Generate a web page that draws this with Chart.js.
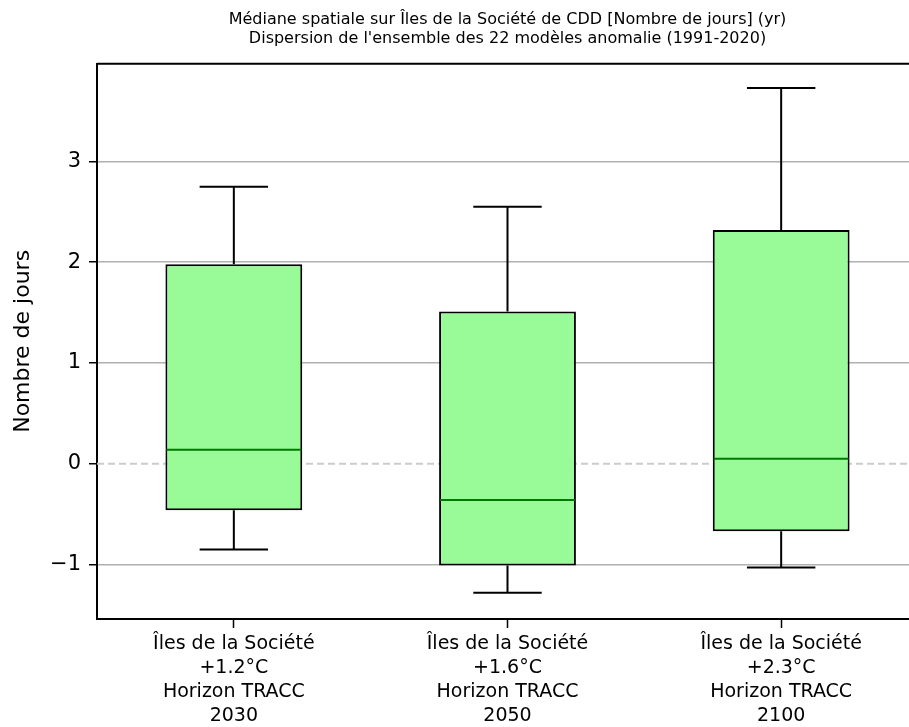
<!DOCTYPE html>
<html>
<head>
<meta charset="utf-8">
<script src="https://cdn.jsdelivr.net/npm/chart.js@4"></script>
<style>
  html, body { margin: 0; padding: 0; background: #fff; overflow: hidden; }
</style>
</head>
<body>
<canvas id="chart-boxplot" width="918" height="727"></canvas>
<script>
/* ── Données ────────────────────────────────────────────── */
const categories = [
  ['Îles de la Société', '+1.2°C', 'Horizon TRACC', '2030'],
  ['Îles de la Société', '+1.6°C', 'Horizon TRACC', '2050'],
  ['Îles de la Société', '+2.3°C', 'Horizon TRACC', '2100'],
];
const whiskerLow  = [-0.85, -1.28, -1.03];
const q1          = [-0.46, -1.01, -0.67];
const median      = [ 0.14, -0.36,  0.05];
const q3          = [ 1.98,  1.51,  2.32];
const whiskerHigh = [ 2.75,  2.55,  3.73];
const yTicks      = [-1, 0, 1, 2, 3];
const titleLines  = [
  'Médiane spatiale sur Îles de la Société de CDD [Nombre de jours] (yr)',
  "Dispersion de l'ensemble des 22 modèles anomalie (1991-2020)",
];

const FONT = "'DejaVu Sans', sans-serif";

/* ── Moustaches, médianes, ligne zéro, cadre ────────────── */
const boxExtras = {
  id: 'boxExtras',
  beforeDatasetsDraw(chart) {
    const { ctx, chartArea: a, scales: { y } } = chart;
    const y0 = y.getPixelForValue(0);
    ctx.save();
    ctx.strokeStyle = '#cccccc';
    ctx.lineWidth = 2;
    ctx.setLineDash([7, 4]);
    ctx.beginPath();
    ctx.moveTo(a.left, y0);
    ctx.lineTo(a.right, y0);
    ctx.stroke();
    ctx.restore();
  },
  afterDatasetsDraw(chart) {
    const { ctx, chartArea: a, scales: { x, y } } = chart;
    const half = (x.getPixelForValue(1) - x.getPixelForValue(0)) * 0.125;
    ctx.save();
    ctx.lineWidth = 2;
    categories.forEach((_, i) => {
      const cx = x.getPixelForValue(i);
      ctx.strokeStyle = '#000';
      ctx.beginPath();
      ctx.moveTo(cx, y.getPixelForValue(q3[i]));
      ctx.lineTo(cx, y.getPixelForValue(whiskerHigh[i]));
      ctx.moveTo(cx - half, y.getPixelForValue(whiskerHigh[i]));
      ctx.lineTo(cx + half, y.getPixelForValue(whiskerHigh[i]));
      ctx.moveTo(cx, y.getPixelForValue(q1[i]));
      ctx.lineTo(cx, y.getPixelForValue(whiskerLow[i]));
      ctx.moveTo(cx - half, y.getPixelForValue(whiskerLow[i]));
      ctx.lineTo(cx + half, y.getPixelForValue(whiskerLow[i]));
      ctx.stroke();
      const bar = chart.getDatasetMeta(0).data[i];
      const ym = y.getPixelForValue(median[i]);
      ctx.strokeStyle = '#007a00';
      ctx.beginPath();
      ctx.moveTo(bar.x - bar.width / 2 + 1, ym);
      ctx.lineTo(bar.x + bar.width / 2 - 1, ym);
      ctx.stroke();
    });
    // cadre haut et droit
    ctx.strokeStyle = '#000';
    ctx.lineWidth = 2;
    ctx.beginPath();
    ctx.moveTo(a.left, a.top);
    ctx.lineTo(a.right, a.top);
    ctx.lineTo(a.right, a.bottom);
    ctx.stroke();
    ctx.restore();
  },
};

new Chart(document.getElementById('chart-boxplot'), {
  type: 'bar',
  data: {
    labels: categories,
    datasets: [{
      data: q1.map((v, i) => [v, q3[i]]),
      backgroundColor: '#98fb98',
      borderColor: '#000',
      borderWidth: 2,
      borderSkipped: false,
      barPercentage: 0.5,
      categoryPercentage: 1.0,
    }],
  },
  options: {
    responsive: false,
    animation: false,
    layout: { padding: 0 },
    plugins: {
      legend: { display: false },
      tooltip: { enabled: false },
      title: {
        display: true,
        fullSize: false,
        text: titleLines,
        color: '#000',
        font: { family: FONT, size: 16, weight: 'normal', lineHeight: 1.2 },
        padding: { top: 10, bottom: 15.3 },
      },
    },
    scales: {
      x: {
        offset: true,
        grid: { offset: false, drawOnChartArea: false, drawTicks: true, tickLength: 9, tickColor: '#000', tickWidth: 1.5 },
        border: { display: true, color: '#000', width: 2 },
        ticks: {
          color: '#000', autoSkip: false, maxRotation: 0, padding: 4,
          font: { family: FONT, size: 19, lineHeight: 1.26 },
        },
        afterFit: s => { s.height = 108; },
      },
      y: {
        min: -1.54, max: 3.97,
        afterBuildTicks: s => { s.ticks = yTicks.map(v => ({ value: v })); },
        grid: {
          color: c => (c.tick && c.tick.value === 0 ? 'rgba(0,0,0,0)' : '#b0b0b0'),
          lineWidth: 1.5,
          tickColor: '#000', tickLength: 8, tickWidth: 1.5,
        },
        border: { display: true, color: '#000', width: 2 },
        ticks: {
          color: '#000', padding: 8,
          font: { family: FONT, size: 21 },
          callback: v => (v < 0 ? '\u2212' + Math.abs(v) : String(v)),
        },
        title: {
          display: true, text: 'Nombre de jours', color: '#000',
          font: { family: FONT, size: 22, lineHeight: 1.2 },
          padding: { top: 10, bottom: 0 },
        },
        afterFit: s => { s.width = 97; },
      },
    },
  },
  plugins: [boxExtras],
});
</script>
</body>
</html>
